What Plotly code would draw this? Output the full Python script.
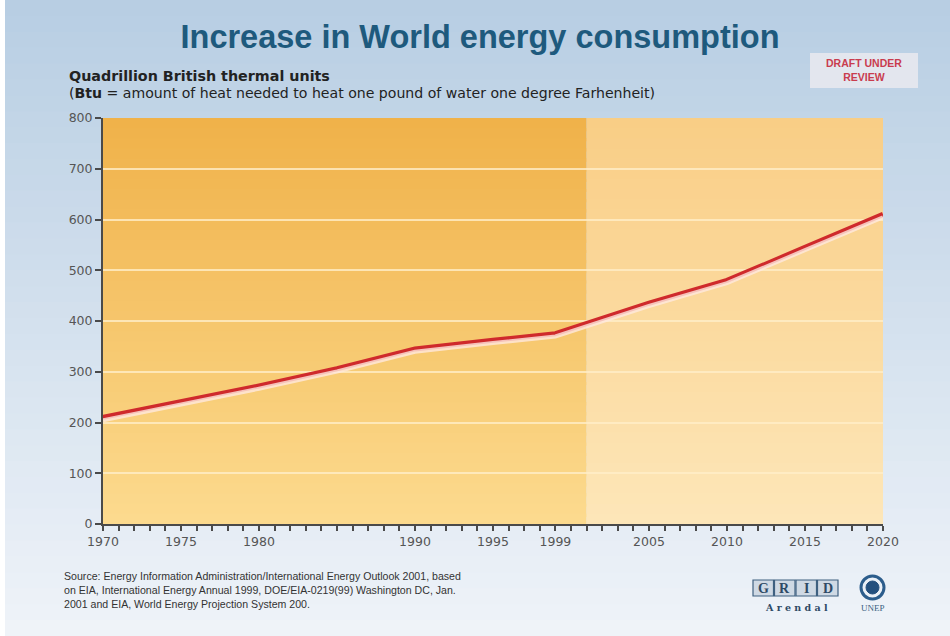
import plotly.graph_objects as go

# ---- data ----
years = [1970, 1975, 1980, 1985, 1990, 1995, 1999, 2005, 2010, 2015, 2020]
consumption = [210, 240, 272, 306, 345, 362, 375, 435, 480, 545, 610]
tick_years = [1970, 1975, 1980, 1990, 1995, 1999, 2005, 2010, 2015, 2020]
y_ticks = [0, 100, 200, 300, 400, 500, 600, 700, 800]
projection_start = 2001

title = "Increase in World energy consumption"
unit_line1 = "Quadrillion British thermal units"
unit_line2 = "(<b>Btu</b> = amount of heat needed to heat one pound of water one degree Farhenheit)"
source_text = ("Source: Energy Information Administration/International Energy Outlook 2001, based<br>"
               "on EIA, International Energy Annual 1999, DOE/EIA-0219(99) Washington DC, Jan.<br>"
               "2001 and EIA, World Energy Projection System 200.")

# ---- geometry helpers (figure pixels -> paper coords) ----
W, H = 950, 636
L, R, T, B = 103, 883, 118, 524
def px(x):
    return (x - L) / (R - L)
def py(y):
    return (B - y) / (B - T)

def hex2rgb(h):
    h = h.lstrip('#')
    return tuple(int(h[i:i+2], 16) for i in (0, 2, 4))
def mix(c1, c2, t):
    a, b = hex2rgb(c1), hex2rgb(c2)
    return 'rgb(%d,%d,%d)' % tuple(round(a[i] + (b[i] - a[i]) * t) for i in range(3))

shapes = []
# page background gradient
nb = 40
y_top, y_bot = py(0), py(H)
for i in range(nb):
    t0 = i / nb
    y0 = y_top + (y_bot - y_top) * t0
    y1 = y_top + (y_bot - y_top) * (i + 1.3) / nb
    shapes.append(dict(type='rect', xref='paper', yref='paper', x0=px(0), x1=px(W),
                       y0=y0, y1=y1, fillcolor=mix('#b8cee3', '#f0f4f9', t0),
                       line=dict(width=0), layer='below'))
# white left border strip
shapes.append(dict(type='rect', xref='paper', yref='paper', x0=px(0), x1=px(5),
                   y0=py(0), y1=py(H), fillcolor='white', line=dict(width=0), layer='below'))

# plot area gradients
nbp = 40
for i in range(nbp):
    v0 = 800 - 800 * i / nbp
    v1 = 800 - 800 * (i + 1.3) / nbp
    t = i / (nbp - 1)
    shapes.append(dict(type='rect', xref='x', yref='y', x0=years[0], x1=projection_start,
                       y0=max(v1, 0), y1=v0, fillcolor=mix('#f0b24a', '#fcda8e', t),
                       line=dict(width=0), layer='below'))
    shapes.append(dict(type='rect', xref='x', yref='y', x0=projection_start, x1=years[-1],
                       y0=max(v1, 0), y1=v0, fillcolor=mix('#f9ce86', '#fde6b8', t),
                       line=dict(width=0), layer='below'))

# draft box
shapes.append(dict(type='rect', xref='paper', yref='paper', x0=px(810), x1=px(918),
                   y0=py(88), y1=py(53), fillcolor='#e3e6ee', line=dict(width=0), layer='above'))

# GRID Arendal logo boxes
gx0 = 753
for k in range(4):
    shapes.append(dict(type='rect', xref='paper', yref='paper',
                       x0=px(gx0 + k * 21.5), x1=px(gx0 + (k + 1) * 21.5 - 1),
                       y0=py(596), y1=py(580), fillcolor='#cfd9e4',
                       line=dict(color='#3f6080', width=1.2), layer='above'))
# UNEP emblem
shapes.append(dict(type='circle', xref='paper', yref='paper', x0=px(861), x1=px(884),
                   y0=py(599), y1=py(576), fillcolor='rgba(0,0,0,0)',
                   line=dict(color='#2c5d8c', width=3), layer='above'))
shapes.append(dict(type='circle', xref='paper', yref='paper', x0=px(866), x1=px(879),
                   y0=py(594), y1=py(581), fillcolor='#24507e',
                   line=dict(color='#24507e', width=1), layer='above'))

fig = go.Figure()
# soft light shadow under the line (second axis shifted a few pixels)
fig.add_trace(go.Scatter(x=years, y=consumption, mode='lines', yaxis='y2',
                         line=dict(color='rgba(255,232,222,0.8)', width=4),
                         hoverinfo='skip', showlegend=False))
fig.add_trace(go.Scatter(x=years, y=consumption, mode='lines',
                         line=dict(color='#cf2a2c', width=5),
                         showlegend=False))

all_years = list(range(tick_years[0], tick_years[-1] + 1))
tick_text = [str(yv) if yv in tick_years else '' for yv in all_years]

annotations = [
    dict(text='<b>' + unit_line1 + '</b>', xref='paper', yref='paper', x=px(67), y=py(76),
         xanchor='left', yanchor='middle', showarrow=False,
         font=dict(family='DejaVu Sans', size=14.3, color='#222')),
    dict(text=unit_line2, xref='paper', yref='paper', x=px(67), y=py(93),
         xanchor='left', yanchor='middle', showarrow=False,
         font=dict(family='DejaVu Sans', size=14.1, color='#222')),
    dict(text='<b>DRAFT UNDER<br>REVIEW</b>', xref='paper', yref='paper', x=px(864), y=py(70.5),
         xanchor='center', yanchor='middle', showarrow=False,
         font=dict(family='Liberation Sans, Arial', size=10.5, color='#c93c4e')),
    dict(text=source_text, xref='paper', yref='paper', x=px(62), y=py(590),
         xanchor='left', yanchor='middle', align='left', showarrow=False,
         font=dict(family='Liberation Sans, Arial', size=10.6, color='#333')),
    dict(text='<b>A r e n d a l</b>', xref='paper', yref='paper', x=px(796), y=py(607),
         xanchor='center', yanchor='middle', showarrow=False,
         font=dict(family='DejaVu Serif, Liberation Serif', size=9.5, color='#2e4a66')),
    dict(text='UNEP', xref='paper', yref='paper', x=px(872.5), y=py(608),
         xanchor='center', yanchor='middle', showarrow=False,
         font=dict(family='Liberation Serif', size=9, color='#3b5f82')),
]
for k, ch in enumerate('GRID'):
    annotations.append(dict(text='<b>' + ch + '</b>', xref='paper', yref='paper',
                            x=px(gx0 + k * 21.5 + 10.25), y=py(588.5),
                            xanchor='center', yanchor='middle', showarrow=False,
                            font=dict(family='Liberation Serif', size=14, color='#2e4a66')))

axis_font = dict(family='DejaVu Sans', size=12.5, color='#555')
fig.update_layout(
    width=W, height=H,
    margin=dict(l=L, r=W - R, t=T, b=H - B),
    paper_bgcolor='#d3e0ec', plot_bgcolor='rgba(0,0,0,0)',
    title=dict(text='<b>' + title + '</b>', xref='container', yref='container',
               x=480 / W, y=1 - 37 / H, xanchor='center', yanchor='middle',
               font=dict(family='Liberation Sans, Arial', size=32.5, color='#1e5a7d')),
    xaxis=dict(range=[years[0], years[-1]], tickmode='array', tickvals=all_years,
               ticktext=tick_text, ticks='outside', ticklen=5, tickwidth=1.5,
               tickcolor='#4a4a4a', showline=True, linecolor='#4a4a4a', linewidth=2,
               showgrid=False, zeroline=False, tickfont=axis_font, fixedrange=True),
    yaxis=dict(range=[0, 800], tickmode='array', tickvals=y_ticks, ticks='outside',
               ticklen=6, tickwidth=1.5, tickcolor='#4a4a4a', showline=True,
               linecolor='#4a4a4a', linewidth=2, showgrid=True,
               gridcolor='rgba(255,238,200,0.8)', gridwidth=2, zeroline=False,
               tickfont=axis_font, fixedrange=True),
    yaxis2=dict(range=[5.5, 805.5], overlaying='y', visible=False, fixedrange=True),
    shapes=shapes,
    annotations=annotations,
    showlegend=False,
)

fig.write_html("out.html")
